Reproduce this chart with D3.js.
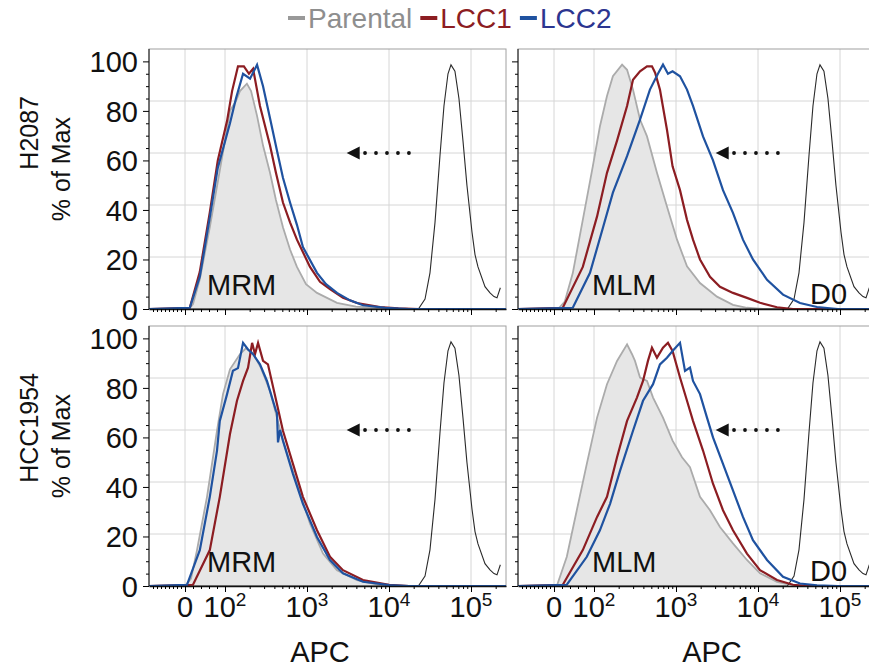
<!DOCTYPE html>
<html>
<head>
<meta charset="utf-8">
<script src="https://cdn.jsdelivr.net/npm/d3@7"></script>
<style>
  html, body { margin: 0; padding: 0; background: #fff; }
  svg { display: block; }
</style>
</head>
<body>
<svg id="chart" width="869" height="672"></svg>
<script>
// histogram points are [APC, % of max]
const seriesNames = ["Parental", "LCC1", "LCC2"];
const lineColors = ["#ababab", "#8c1d22", "#1f52a0"];
const legendColors = ["#8e8e8e", "#8c1d22", "#2c3590"];
const rowLabels = ["H2087", "HCC1954"];
const panelLabels = ["MRM", "MLM"];
const yTicks = [0, 20, 40, 60, 80, 100];
const yGrid = [21, 42, 63, 84];
const xTicks = [0, 1e2, 1e3, 1e4, 1e5];
const xTickLabels = [["0", ""], ["10", "2"], ["10", "3"], ["10", "4"], ["10", "5"]];

const d0 = [[-90,0],[22800,0],[27500,4],[31600,14.6],[36400,35],[41800,61.7],[46800,82],[52400,95],[57000,98.6],[63700,96],[71300,85],[79800,68],[89200,50],[102900,31],[111900,22],[121700,17],[148100,9],[170500,6.5],[190700,5],[207500,4.5],[228000,8.6]];

const h2087MrmParental = [[-90,0],[10,0],[20,2],[37,12],[62,33],[87,56],[100,68],[115,80],[136,84],[152,88],[185,91],[208,88],[246,78],[291,66],[354,55],[418,44],[509,33],[621,24],[754,17],[972,10],[1324,6.5],[2321,2.5],[3957,1],[7760,0.3],[13000,0],[267000,0]];
const h2087MrmLcc1 = [[-90,0],[12,0.5],[37,15],[62,39],[82,60],[106,76],[122,88],[144,98],[170,98],[196,95],[220,97],[267,82],[354,66],[418,55],[509,43],[621,35],[754,28],[1088,17],[1440,11],[1907,8],[2747,4.5],[4068,2.4],[7760,0.8],[13000,0.3],[23200,0],[267000,0]];
const h2087MrmLcc2 = [[-90,0],[12,0.5],[37,13],[62,37],[82,57],[115,75],[136,85],[166,95],[202,93],[246,98.6],[291,90],[354,77],[430,64],[509,53],[621,43],[754,34],[892,25],[1324,14.6],[1705,10],[2321,6.5],[3344,3.5],[4814,1.5],[8924,0.5],[17500,0],[267000,0]];

const h2087MlmParental = [[-90,0],[10,0],[27,3],[47,14.5],[72,36],[97,57.6],[118,73.7],[144,86],[170,94],[220,98.7],[253,96.6],[299,88.6],[364,76.5],[443,69.7],[586,55],[776,41.4],[1029,28],[1362,17.2],[1962,10.5],[3160,5],[4950,1.7],[7330,0.5],[11500,0],[267000,0]];
const h2087MlmLcc1 = [[-90,0],[22,0.5],[72,17],[109,37.4],[144,55],[191,68],[253,82],[299,92.6],[364,96],[443,98],[509,98],[556,95.4],[637,88.6],[776,72.4],[908,57.6],[1119,48],[1362,36],[1612,28],[1962,20],[2597,13],[3438,9],[4950,6.5],[7330,4.5],[10580,2.5],[17050,0.7],[26700,0],[267000,0]];
const h2087MlmLcc2 = [[-90,0],[47,0.5],[90,14.6],[129,33],[170,47],[253,61.7],[364,76.5],[481,88.6],[602,95],[694,98.7],[798,95],[908,96],[1119,94],[1362,88.6],[1612,82],[2135,69.7],[2826,60],[3741,48],[4950,38.8],[6555,28],[8680,20],[12880,11.8],[20180,5.8],[32500,2.4],[52400,0.8],[94400,0],[267000,0]];

const hcc1954MrmParental = [[-90,0],[0,0],[15,3],[30,14.5],[55,36],[80,62.7],[95,77.5],[115,87.5],[152,93.6],[180,96],[220,94],[275,88],[354,78.8],[509,58.7],[754,41.3],[1088,25.2],[1567,13.1],[2321,6.4],[4068,2.4],[7540,0.5],[13200,0],[267000,0]];
const hcc1954MrmLcc1 = [[-90,0],[20,0.5],[62,14.5],[87,36],[115,61.4],[140,74.8],[166,82.8],[191,88.2],[214,98.2],[232,93.6],[253,98.2],[291,90.9],[334,89.5],[430,73.5],[509,62.7],[674,49.3],[892,36],[1324,22.5],[1907,11.8],[2747,6.4],[4814,2.4],[10000,0.5],[17500,0],[267000,0]];
const hcc1954MrmLcc2 = [[-90,0],[5,0.5],[37,14.5],[62,36],[80,54.7],[87,66.7],[106,77.5],[125,86.9],[144,88],[166,98.2],[191,95.5],[220,93.6],[267,89.5],[325,82.8],[418,70.8],[430,70],[443,58],[470,63],[509,58.7],[674,45.3],[892,33.2],[1324,19.8],[1907,10.5],[2747,5.1],[4814,1.7],[10000,0.4],[17500,0],[267000,0]];

const hcc1954MlmParental = [[-90,0],[7,0],[32,11.8],[57,30.6],[82,49.3],[109,68],[144,81.5],[191,90.9],[253,97.6],[291,93.6],[316,90.9],[364,84.2],[443,82.8],[525,76.1],[694,68],[908,58.7],[1184,52],[1481,48],[1962,36],[2597,30.6],[3438,23.8],[4950,17.2],[7330,10.5],[10580,5.1],[17050,1.7],[26700,0.3],[40600,0],[267000,0]];
const hcc1954MlmLcc1 = [[-90,0],[22,0.5],[72,14.5],[109,27.9],[144,36],[191,52],[253,66.7],[334,76.1],[396,82.8],[455,90.9],[509,96.2],[586,92.2],[694,96.2],[798,98.2],[908,94.9],[1119,84.2],[1362,74.8],[1612,66.7],[2135,54.7],[2826,41.3],[3741,30.6],[4950,22.5],[7330,13.1],[10580,6.4],[17050,2.4],[26700,0.5],[40600,0],[267000,0]];
const hcc1954MlmLcc2 = [[-90,0],[32,0.5],[82,11.8],[118,22.5],[157,33.2],[208,46.6],[299,62.7],[396,74.8],[525,81.5],[637,89.5],[776,92.2],[908,94.9],[1119,98.2],[1288,86.9],[1481,88.2],[1612,82.8],[1962,77.5],[2388,68],[2826,60],[3741,49.3],[4950,38.6],[6555,27.9],[8680,18.5],[12880,10.5],[20180,3.7],[32500,1],[52400,0.3],[94400,0],[267000,0]];

const panels = [
  {row: 0, col: 0, series: [h2087MrmParental, h2087MrmLcc1, h2087MrmLcc2]},
  {row: 0, col: 1, series: [h2087MlmParental, h2087MlmLcc1, h2087MlmLcc2]},
  {row: 1, col: 0, series: [hcc1954MrmParental, hcc1954MrmLcc1, hcc1954MrmLcc2]},
  {row: 1, col: 1, series: [hcc1954MlmParental, hcc1954MlmLcc1, hcc1954MlmLcc2]}
];

const FONT = "'Liberation Sans', Arial, Helvetica, sans-serif";
const W = 357, H = 260;
const colX = [149, 518], rowY = [49, 326];
const apcLabelX = [171, 194];

// biexponential-ish axis: linear up to 100, log above
const xLin = d3.scaleLinear().domain([-90, 100]).range([0, 76]);
const xLog = d3.scaleLog().domain([100, 1e5]).range([76, 322]);
const x = v => (v < 100 ? xLin(v) : xLog(v));
x.range = () => [0, W];
x.domain = () => [-90, 267000];
x.copy = () => x;
const y = d3.scaleLinear().domain([0, 105]).range([H, 0]);

const xMinor = [-80, -70, -60, -50, -40, -30, -20, -10, 20, 40, 60, 80]
  .concat(d3.range(2, 10).map(k => k * 100), d3.range(2, 10).map(k => k * 1000),
          d3.range(2, 10).map(k => k * 10000), [200000]);
const yMinor = d3.range(0, 105, 5).filter(v => v % 20 !== 0);

const svg = d3.select("#chart");

const line = d3.line().x(d => x(d[0])).y(d => y(d[1]));
const area = d3.area().x(d => x(d[0])).y0(y(0)).y1(d => y(d[1]));

panels.forEach(p => {
  const g = svg.append("g").attr("transform", `translate(${colX[p.col]},${rowY[p.row]})`);
  const clipId = `clip-${p.row}-${p.col}`;
  g.append("clipPath").attr("id", clipId).append("rect").attr("width", W).attr("height", H);

  g.selectAll(".gridy").data(yGrid).join("line").attr("class", "gridy")
    .attr("x1", 0).attr("x2", W).attr("y1", d => y(d)).attr("y2", d => y(d))
    .attr("stroke", "#d6d6d6").attr("stroke-width", 1);
  g.selectAll(".gridx").data(xTicks).join("line").attr("class", "gridx")
    .attr("x1", d => x(d)).attr("x2", d => x(d)).attr("y1", 0).attr("y2", H)
    .attr("stroke", "#d6d6d6").attr("stroke-width", 1);

  g.append("rect").attr("width", W).attr("height", H)
    .attr("fill", "none").attr("stroke", "#a0a0a0");

  const plot = g.append("g").attr("clip-path", `url(#${clipId})`);
  plot.append("path").datum(p.series[0]).attr("d", area).attr("fill", "#e6e6e6");
  plot.append("path").datum(p.series[0]).attr("d", line)
    .attr("fill", "none").attr("stroke", lineColors[0]).attr("stroke-width", 1.8);
  plot.append("path").datum(d0).attr("d", line)
    .attr("fill", "none").attr("stroke", "#2a2a2a").attr("stroke-width", 1.1);
  plot.append("path").datum(p.series[1]).attr("d", line)
    .attr("fill", "none").attr("stroke", lineColors[1]).attr("stroke-width", 2.2);
  plot.append("path").datum(p.series[2]).attr("d", line)
    .attr("fill", "none").attr("stroke", lineColors[2]).attr("stroke-width", 2.2);

  // annotations
  plot.append("text").attr("x", x(p.col === 0 ? 55 : 95)).attr("y", y(5.5))
    .attr("font-family", FONT).attr("font-size", 29).attr("fill", "#111")
    .text(panelLabels[p.col]);
  if (p.col === 1) {
    plot.append("text").attr("x", x(43000)).attr("y", y(2))
      .attr("font-family", FONT).attr("font-size", 29).attr("fill", "#111").text("D0");
  }
  const tip = x(3050), ay = y(63);
  plot.append("path").attr("d", `M${tip},${ay}L${tip + 13},${ay - 6.5}L${tip + 13},${ay + 6.5}Z`).attr("fill", "#111");
  const dotScale = d3.scaleLinear().domain([0, 4]).range([x(5100), x(17500)]);
  plot.selectAll(".dot").data(d3.range(5)).join("circle").attr("class", "dot")
    .attr("cx", d => dotScale(d)).attr("cy", ay).attr("r", 1.9).attr("fill", "#111");

  // axes
  const yAxis = g.append("g").call(d3.axisLeft(y).tickValues(yTicks).tickSize(6).tickSizeOuter(0)
    .tickPadding(5).tickFormat(p.col === 0 ? d3.format("d") : ""));
  yAxis.selectAll("text").attr("font-family", FONT).attr("font-size", 29).attr("fill", "#111").attr("dy", "0.36em");
  yAxis.select(".domain").remove();
  g.append("g").call(d3.axisLeft(y).tickValues(yMinor).tickSize(3).tickFormat(""))
    .select(".domain").remove();
  g.append("line").attr("x1", 0).attr("x2", 0).attr("y1", 0).attr("y2", H).attr("stroke", "#111");

  const xAxis = g.append("g").attr("transform", `translate(0,${H})`)
    .call(d3.axisBottom(x).tickValues(xTicks).tickSize(6).tickSizeOuter(0).tickFormat(""));
  xAxis.select(".domain").attr("stroke", "#111").attr("stroke-width", 1.3);
  g.append("g").attr("transform", `translate(0,${H})`)
    .call(d3.axisBottom(x).tickValues(xMinor).tickSize(3).tickFormat(""))
    .select(".domain").remove();

  if (p.row === 1) {
    const lab = g.selectAll(".xlab").data(xTicks).join("text").attr("class", "xlab")
      .attr("x", d => x(d)).attr("y", H + 31).attr("text-anchor", "middle")
      .attr("font-family", FONT).attr("font-size", 29).attr("fill", "#111");
    lab.append("tspan").text((d, i) => xTickLabels[i][0]);
    lab.append("tspan").attr("dy", -11).attr("font-size", 19).text((d, i) => xTickLabels[i][1]);
    g.append("text").attr("x", apcLabelX[p.col]).attr("y", H + 76).attr("text-anchor", "middle")
      .attr("font-family", FONT).attr("font-size", 29).attr("fill", "#111").text("APC");
  }
});

// row titles
rowLabels.forEach((t, i) => {
  svg.append("text").attr("transform", `translate(38,${rowY[i] + 47}) rotate(-90)`)
    .attr("text-anchor", "end").attr("font-family", FONT).attr("font-size", 25).attr("fill", "#111").text(t);
  svg.append("text").attr("transform", `translate(70,${rowY[i] + 68}) rotate(-90)`)
    .attr("text-anchor", "end").attr("font-family", FONT).attr("font-size", 25).attr("fill", "#111").text("% of Max");
});

// legend
const legend = svg.append("g").attr("transform", "translate(288,0)");
let lx = 0;
seriesNames.forEach((name, i) => {
  legend.append("line").attr("x1", lx).attr("x2", lx + 17).attr("y1", 18).attr("y2", 18)
    .attr("stroke", i === 0 ? "#999" : lineColors[i]).attr("stroke-width", 4);
  const t = legend.append("text").attr("x", lx + 20).attr("y", 28)
    .attr("font-family", FONT).attr("font-size", 28).attr("fill", legendColors[i]).text(name);
  lx += 20 + t.node().getComputedTextLength() + 8;
});
</script>
</body>
</html>
